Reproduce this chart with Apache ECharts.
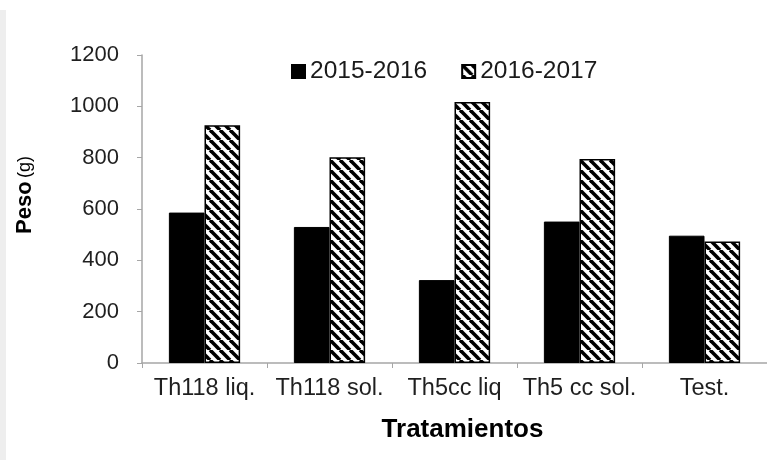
<!DOCTYPE html>
<html>
<head>
<meta charset="utf-8">
<script src="https://cdn.jsdelivr.net/npm/echarts@6/dist/echarts.min.js"></script>
<style>
html,body{margin:0;padding:0;background:#fff;}
#chart{width:767px;height:468px;}
</style>
</head>
<body>
<div id="chart"></div>
<script>
const categories = ['Th118 liq.', 'Th118 sol.', 'Th5cc liq', 'Th5 cc sol.', 'Test.'];
const series2015 = [586, 530, 323, 551, 496];
const series2016 = [926, 802, 1017, 795, 473];
const seriesNames = ['2015-2016', '2016-2017'];
const yTicks = { min: 0, max: 1200, interval: 200 };

function makeHatch() {
  const s = 10;
  const c = document.createElement('canvas');
  c.width = s; c.height = s;
  const ctx = c.getContext('2d');
  ctx.fillStyle = '#fff';
  ctx.fillRect(0, 0, s, s);
  ctx.strokeStyle = '#000';
  ctx.lineWidth = 3.6;
  for (const k of [-s, 0, s]) {
    ctx.beginPath();
    ctx.moveTo(k, 0);
    ctx.lineTo(k + s, s);
    ctx.stroke();
  }
  return c;
}

const chart = echarts.init(document.getElementById('chart'), null, { renderer: 'canvas' });
const font = 'Liberation Sans, Arial, sans-serif';
chart.setOption({
  animation: false,
  backgroundColor: '#fff',
  textStyle: { fontFamily: font },
  graphic: [
    { type: 'rect', shape: { x: 0, y: 10, width: 6, height: 450 }, style: { fill: '#eeeeee' } },
    {
      type: 'text', x: 25, y: 195, rotation: Math.PI / 2,
      style: {
        text: '{a|Peso} {b|(g)}',
        align: 'center', verticalAlign: 'middle',
        rich: {
          a: { fontSize: 22, fontWeight: 'bold', fill: '#000', fontFamily: font },
          b: { fontSize: 18, fill: '#000', fontFamily: font }
        }
      }
    }
  ],
  legend: {
    top: 54, left: 286,
    icon: 'rect',
    itemWidth: 13, itemHeight: 13, itemGap: 34,
    textStyle: { fontSize: 24.5, color: '#1a1a1a', fontFamily: font },
    data: seriesNames
  },
  grid: { left: 142, top: 55, bottom: 105, right: -3, containLabel: false },
  xAxis: {
    type: 'category',
    data: categories,
    axisLine: { lineStyle: { color: '#a6a6a6', width: 1.5 } },
    axisTick: { show: true, length: 5, lineStyle: { color: '#a6a6a6' } },
    axisLabel: { fontSize: 23.5, color: '#1f1f1f', margin: 14, interval: 0 },
    name: 'Tratamientos',
    nameLocation: 'middle',
    nameGap: 54,
    nameTextStyle: { fontSize: 26, fontWeight: 'bold', color: '#000', padding: [0, 0, 0, 16] }
  },
  yAxis: {
    type: 'value',
    min: yTicks.min, max: yTicks.max, interval: yTicks.interval,
    splitLine: { show: false },
    axisLine: { show: true, lineStyle: { color: '#a6a6a6', width: 1.5 } },
    axisTick: { show: true, length: 5, lineStyle: { color: '#a6a6a6' } },
    axisLabel: { fontSize: 22, color: '#1f1f1f', margin: 23, formatter: v => String(v) }
  },
  series: [
    {
      name: seriesNames[0], type: 'bar', data: series2015,
      barGap: '0%', barCategoryGap: '43%',
      itemStyle: { color: '#000', borderColor: '#000', borderWidth: 1 }
    },
    {
      name: seriesNames[1], type: 'bar', data: series2016,
      barGap: '0%', barCategoryGap: '43%',
      itemStyle: { color: { image: makeHatch(), repeat: 'repeat' }, borderColor: '#000', borderWidth: 1.5 }
    }
  ]
});
</script>
</body>
</html>
